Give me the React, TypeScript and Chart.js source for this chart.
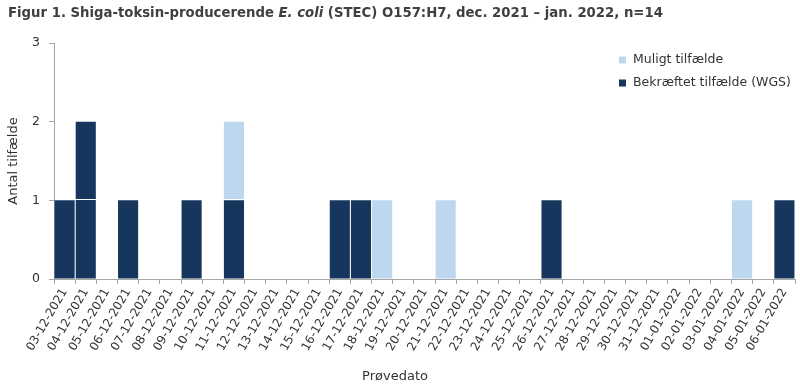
import React, { useEffect, useRef } from "react";
import { Chart, registerables } from "chart.js";

Chart.register(...registerables);

const categories: string[] = [
  "03-12-2021", "04-12-2021", "05-12-2021", "06-12-2021", "07-12-2021", "08-12-2021", "09-12-2021",
  "10-12-2021", "11-12-2021", "12-12-2021", "13-12-2021", "14-12-2021", "15-12-2021", "16-12-2021",
  "17-12-2021", "18-12-2021", "19-12-2021", "20-12-2021", "21-12-2021", "22-12-2021", "23-12-2021",
  "24-12-2021", "25-12-2021", "26-12-2021", "27-12-2021", "28-12-2021", "29-12-2021", "30-12-2021",
  "31-12-2021", "01-01-2022", "02-01-2022", "03-01-2022", "04-01-2022", "05-01-2022", "06-01-2022",
];

const confirmed: number[] = [
  1, 2, 0, 1, 0, 0, 1,
  0, 1, 0, 0, 0, 0, 1,
  1, 0, 0, 0, 0, 0, 0,
  0, 0, 1, 0, 0, 0, 0,
  0, 0, 0, 0, 0, 0, 1,
];

const possible: number[] = [
  0, 0, 0, 0, 0, 0, 0,
  0, 1, 0, 0, 0, 0, 0,
  0, 1, 0, 0, 1, 0, 0,
  0, 0, 0, 0, 0, 0, 0,
  0, 0, 0, 0, 1, 0, 0,
];

const seriesLabels = { possible: "Muligt tilfælde", confirmed: "Bekræftet tilfælde (WGS)" };
const yTicks: number[] = [0, 1, 2, 3];
const xTitle = "Prøvedato";
const yTitle = "Antal tilfælde";

const DARK = "#17365D";
const LIGHT = "#BDD7EE";
const AXIS = "#A6A6A6";
const TEXT = "#333333";
const FONT = "'DejaVu Sans', sans-serif";

// white separators between individual cases (unit blocks) in the stacked bars
const unitSeparatorPlugin = {
  id: "unitSeparators",
  afterDatasetsDraw(chart: any) {
    const { ctx, chartArea, scales } = chart;
    ctx.save();
    ctx.strokeStyle = "#FFFFFF";
    ctx.lineWidth = 1;
    yTicks.forEach((v) => {
      if (v <= 0) return;
      const y = Math.floor(scales.y.getPixelForValue(v)) - 0.5;
      ctx.beginPath();
      ctx.moveTo(chartArea.left + 1, y);
      ctx.lineTo(chartArea.right, y);
      ctx.stroke();
    });
    ctx.restore();
  },
};

const legendPlugin = {
  id: "insideLegend",
  afterDraw(chart: any) {
    const { ctx, chartArea } = chart;
    const items = [
      { label: seriesLabels.possible, color: LIGHT },
      { label: seriesLabels.confirmed, color: DARK },
    ];
    ctx.save();
    ctx.font = `12.5px ${FONT}`;
    ctx.textBaseline = "middle";
    ctx.textAlign = "left";
    const x0 = chartArea.right - 176;
    items.forEach((it, i) => {
      const cy = chartArea.top + 17 + i * 23;
      ctx.fillStyle = it.color;
      ctx.fillRect(x0, cy - 3.5, 7, 7);
      ctx.fillStyle = TEXT;
      ctx.fillText(it.label, x0 + 14, cy);
    });
    // x axis title
    ctx.font = `13px ${FONT}`;
    ctx.textAlign = "center";
    ctx.fillText(xTitle, chart.width / 2 - 5, 377);
    ctx.restore();
  },
};

export default function App() {
  const canvasRef = useRef<HTMLCanvasElement>(null);

  useEffect(() => {
    document.body.style.margin = "0";
    const chart = new Chart(canvasRef.current!, {
      type: "bar",
      data: {
        labels: categories,
        datasets: [
          {
            label: seriesLabels.confirmed,
            data: confirmed,
            backgroundColor: DARK,
            borderWidth: 0,
            inflateAmount: 0,
            barPercentage: 0.95,
            categoryPercentage: 1,
            stack: "s",
          },
          {
            label: seriesLabels.possible,
            data: possible,
            backgroundColor: LIGHT,
            borderWidth: 0,
            inflateAmount: 0,
            barPercentage: 0.95,
            categoryPercentage: 1,
            stack: "s",
          },
        ],
      },
      options: {
        animation: false,
        responsive: false,
        maintainAspectRatio: false,
        layout: { padding: { left: 0, right: 5, top: 43, bottom: 0 } },
        plugins: {
          legend: { display: false },
          tooltip: { enabled: false },
          title: { display: false },
        },
        scales: {
          x: {
            stacked: true,
            grid: {
              display: true,
              drawOnChartArea: false,
              drawTicks: true,
              tickLength: 5,
              color: AXIS,
              offset: true,
            },
            border: { display: true, color: AXIS, width: 1 },
            ticks: {
              autoSkip: false,
              maxRotation: 60,
              minRotation: 60,
              padding: 2,
              color: TEXT,
              font: { family: FONT, size: 12 },
            },
            title: { display: false },
            afterFit(scale: any) {
              scale.height = 109;
            },
          },
          y: {
            stacked: true,
            min: 0,
            max: 3,
            afterBuildTicks(scale: any) {
              scale.ticks = yTicks.map((v) => ({ value: v }));
            },
            grid: {
              display: true,
              drawOnChartArea: false,
              drawTicks: true,
              tickLength: 5,
              color: AXIS,
            },
            border: { display: true, color: AXIS, width: 1 },
            ticks: {
              padding: 9,
              color: TEXT,
              font: { family: FONT, size: 12.5 },
            },
            title: {
              display: true,
              text: yTitle,
              color: TEXT,
              font: { family: FONT, size: 13 },
              padding: { top: 6, bottom: 4 },
            },
            afterFit(scale: any) {
              scale.width = 54;
            },
          },
        },
      },
      plugins: [unitSeparatorPlugin, legendPlugin],
    });
    return () => chart.destroy();
  }, []);

  return (
    <div style={{ position: "relative", width: 800, height: 388, background: "#fff" }}>
      <div
        style={{
          position: "absolute",
          left: 8,
          top: 3,
          fontFamily: FONT,
          fontWeight: "bold",
          fontSize: 13.25,
          color: "#404040",
          whiteSpace: "nowrap",
          lineHeight: "20px",
        }}
      >
        Figur 1. Shiga-toksin-producerende <i>E. coli</i> (STEC) O157:H7, dec. 2021 – jan. 2022, n=14
      </div>
      <canvas ref={canvasRef} width={800} height={388} style={{ display: "block" }} />
    </div>
  );
}
